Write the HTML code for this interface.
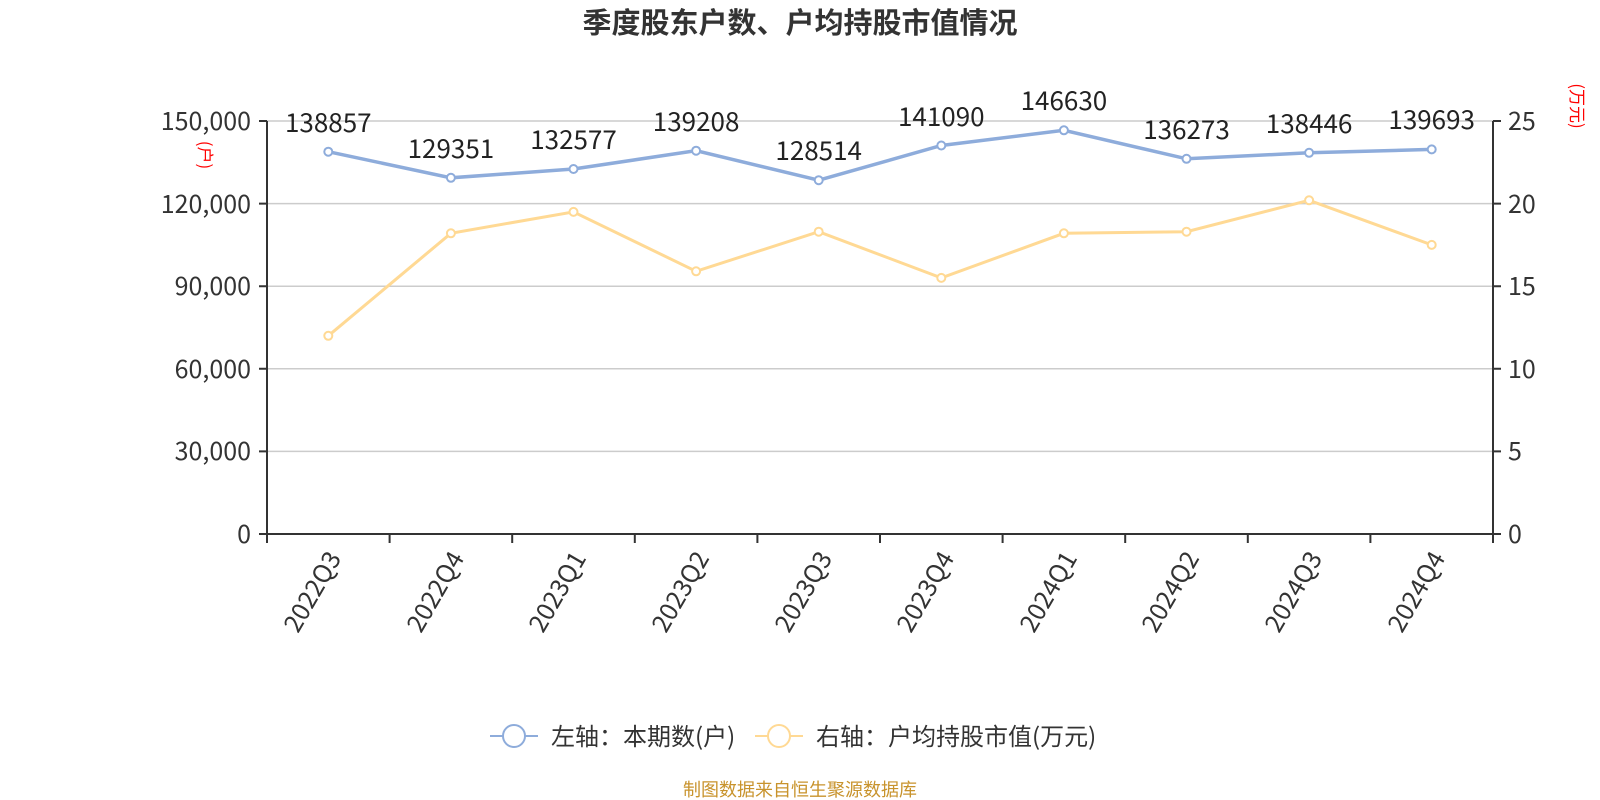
<!DOCTYPE html>
<html><head><meta charset="utf-8"><style>
html,body{margin:0;padding:0;background:#fff;}
svg{display:block;font-family:"Noto Sans CJK SC","Liberation Sans",sans-serif;}
</style></head><body>
<svg width="1600" height="800" viewBox="0 0 1600 800">
<text x="800" y="33" text-anchor="middle" font-size="29" font-weight="bold" fill="#333">季度股东户数、户均持股市值情况</text>
<g stroke="#ccc" stroke-width="1.5">
<line x1="267" x2="1493" y1="121" y2="121"/><line x1="267" x2="1493" y1="203.6" y2="203.6"/>
<line x1="267" x2="1493" y1="286.2" y2="286.2"/><line x1="267" x2="1493" y1="368.8" y2="368.8"/>
<line x1="267" x2="1493" y1="451.4" y2="451.4"/>
</g>
<g stroke="#333" stroke-width="2" fill="none">
<line x1="267" x2="267" y1="121" y2="534"/><line x1="1493" x2="1493" y1="121" y2="534"/>
<line x1="259" x2="1501" y1="534" y2="534"/>
<path d="M259 121h8M259 203.6h8M259 286.2h8M259 368.8h8M259 451.4h8M1493 121h8M1493 203.6h8M1493 286.2h8M1493 368.8h8M1493 451.4h8M1493 534h8"/>
<path d="M267 534v9M389.6 534v9M512.2 534v9M634.8 534v9M757.4 534v9M880 534v9M1002.6 534v9M1125.2 534v9M1247.8 534v9M1370.4 534v9M1493 534v9"/>
</g>
<g font-size="25" fill="#333" text-anchor="end">
<text x="251" y="130">150,000</text><text x="251" y="213">120,000</text><text x="251" y="295">90,000</text>
<text x="251" y="378">60,000</text><text x="251" y="460">30,000</text><text x="251" y="543">0</text>
</g>
<g font-size="25" fill="#333">
<text x="1508" y="130">25</text><text x="1508" y="213">20</text><text x="1508" y="295">15</text>
<text x="1508" y="378">10</text><text x="1508" y="460">5</text><text x="1508" y="543">0</text>
</g>
<text transform="translate(199,155) rotate(90)" font-size="17" fill="red" text-anchor="middle">(户)</text>
<text transform="translate(1571,106) rotate(90)" font-size="17" fill="red" text-anchor="middle">(万元)</text>
<g font-size="25" fill="#333" text-anchor="end">
<text transform="translate(342,558) rotate(-60)">2022Q3</text>
<text transform="translate(465,558) rotate(-60)">2022Q4</text>
<text transform="translate(587,558) rotate(-60)">2023Q1</text>
<text transform="translate(710,558) rotate(-60)">2023Q2</text>
<text transform="translate(833,558) rotate(-60)">2023Q3</text>
<text transform="translate(955,558) rotate(-60)">2023Q4</text>
<text transform="translate(1078,558) rotate(-60)">2024Q1</text>
<text transform="translate(1200,558) rotate(-60)">2024Q2</text>
<text transform="translate(1323,558) rotate(-60)">2024Q3</text>
<text transform="translate(1446,558) rotate(-60)">2024Q4</text>
</g>
<polyline fill="none" stroke="#ffd994" stroke-width="3" points="328.3,335.8 450.9,233.3 573.5,211.9 696.1,271.3 818.7,231.7 941.3,277.9 1063.9,233.3 1186.5,231.7 1309.1,200.3 1431.7,244.9"/>
<g fill="#fff" stroke="#ffd994" stroke-width="2">
<circle cx="328.3" cy="335.8" r="4"/><circle cx="450.9" cy="233.3" r="4"/><circle cx="573.5" cy="211.9" r="4"/><circle cx="696.1" cy="271.3" r="4"/><circle cx="818.7" cy="231.7" r="4"/><circle cx="941.3" cy="277.9" r="4"/><circle cx="1063.9" cy="233.3" r="4"/><circle cx="1186.5" cy="231.7" r="4"/><circle cx="1309.1" cy="200.3" r="4"/><circle cx="1431.7" cy="244.9" r="4"/>
</g>
<polyline fill="none" stroke="#8eacdb" stroke-width="3.5" points="328.3,151.7 450.9,177.8 573.5,169 696.1,150.7 818.7,180.2 941.3,145.5 1063.9,130.3 1186.5,158.8 1309.1,152.8 1431.7,149.4"/>
<g fill="#fff" stroke="#8eacdb" stroke-width="2">
<circle cx="328.3" cy="151.7" r="4"/><circle cx="450.9" cy="177.8" r="4"/><circle cx="573.5" cy="169" r="4"/><circle cx="696.1" cy="150.7" r="4"/><circle cx="818.7" cy="180.2" r="4"/><circle cx="941.3" cy="145.5" r="4"/><circle cx="1063.9" cy="130.3" r="4"/><circle cx="1186.5" cy="158.8" r="4"/><circle cx="1309.1" cy="152.8" r="4"/><circle cx="1431.7" cy="149.4" r="4"/>
</g>
<g font-size="26" fill="#222" text-anchor="middle">
<text x="328.3" y="132">138857</text><text x="450.9" y="158">129351</text><text x="573.5" y="149">132577</text>
<text x="696.1" y="131">139208</text><text x="818.7" y="160">128514</text><text x="941.3" y="126">141090</text>
<text x="1063.9" y="110">146630</text><text x="1186.5" y="139">136273</text><text x="1309.1" y="133">138446</text>
<text x="1431.7" y="129">139693</text>
</g>
<g>
<line x1="490" x2="538" y1="736" y2="736" stroke="#8eacdb" stroke-width="2"/>
<circle cx="514" cy="736" r="11" fill="#fff" stroke="#8eacdb" stroke-width="2"/>
<text x="551" y="745" font-size="24" fill="#333">左轴：本期数(户)</text>
<line x1="755" x2="803" y1="736" y2="736" stroke="#ffd994" stroke-width="2"/>
<circle cx="779" cy="736" r="11" fill="#fff" stroke="#ffd994" stroke-width="2"/>
<text x="816" y="745" font-size="24" fill="#333">右轴：户均持股市值(万元)</text>
</g>
<text x="800" y="796" text-anchor="middle" font-size="18" fill="#c8932c">制图数据来自恒生聚源数据库</text>
</svg>
</body></html>
